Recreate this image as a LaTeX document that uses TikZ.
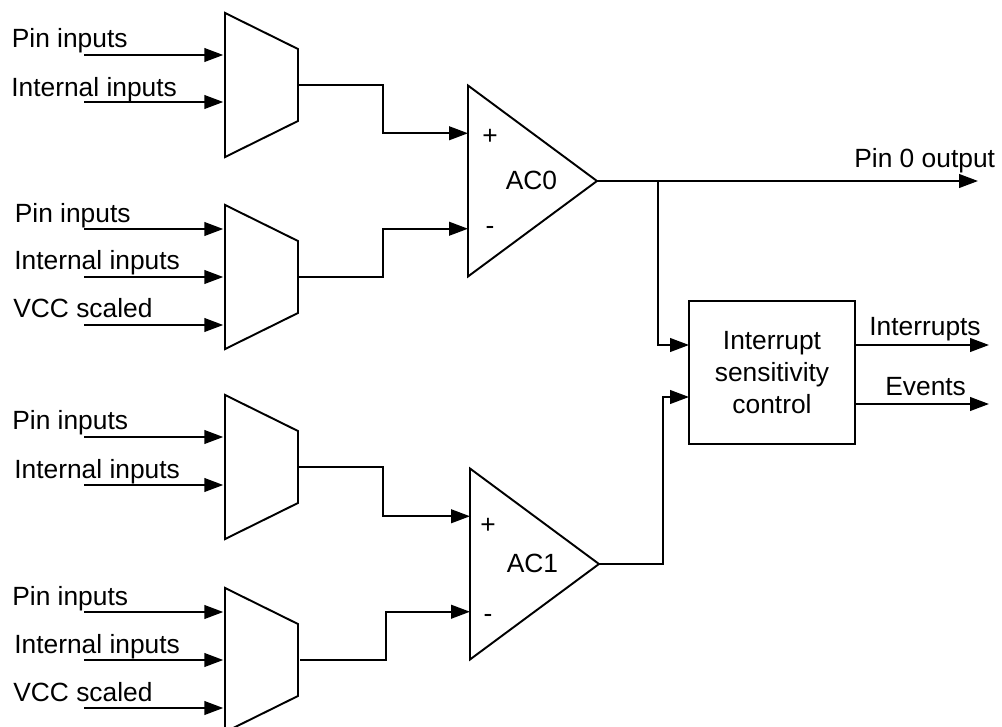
\documentclass[tikz,border=0pt]{standalone}
\usepackage{fontspec}
\setmainfont{Liberation Sans}
\usetikzlibrary{arrows.meta}
\usetikzlibrary{shapes.geometric}
\usetikzlibrary{calc}
\tikzset{
  sig/.style={line width=1.1pt, -{Triangle[length=10.8pt,width=7.8pt]}},
  lbl/.style={font=\fontsize{15}{18.2}\selectfont, anchor=base west, inner sep=0pt},
  mid/.style={font=\fontsize{15}{18.2}\selectfont, anchor=base, inner sep=0pt},
  muxblock/.style={draw, line width=1.1pt, trapezium, shape border rotate=270,
    trapezium left angle=63.7, trapezium right angle=63.7, inner sep=0pt, outer sep=0pt},
  comparator/.style={draw, line width=1.1pt, isosceles triangle, isosceles triangle stretches=true,
    minimum width=3.82cm, minimum height=2.58cm, inner sep=0pt, outer sep=0pt, anchor=lower side},
}

\begin{document}
\begin{tikzpicture}[x=0.02cm,y=-0.02cm]
  \useasboundingbox (0,0) rectangle (1002,727);

  % Multiplexers
  \foreach \name/\top in {muxa/13,muxb/205,muxc/395,muxd/588}
    \node[muxblock] (\name) at (261.5,{\top+72}) {\phantom{\rule{1.46cm}{1.44cm}}};

  % Inputs
  \foreach \n/\m/\y/\lx/\ly/\txt in {
      1/muxa/55/11.5/47/Pin inputs, 2/muxa/102/11/96/Internal inputs,
      3/muxb/229/14.5/222/Pin inputs, 4/muxb/277/14/269/Internal inputs, 5/muxb/325/13/317/VCC scaled,
      6/muxc/437/12/429/Pin inputs, 7/muxc/485/14/478/Internal inputs,
      8/muxd/612/12/605/Pin inputs, 9/muxd/660/14/653/Internal inputs, 10/muxd/708/13/701/VCC scaled}{
    \node[lbl] (lbl\n) at (\lx,\ly) {\txt};
    \coordinate (in\n) at (84,\y);
    \draw[sig, shorten >=1pt] (in\n) -- (\m.west |- in\n);
  }

  % Comparators
  \node[comparator] (acz) at (468,181) {\phantom{M}};
  \node[comparator] (aco) at (470,564) {\phantom{M}};
  \node[mid] (aczname) at (531.5,189) {AC0};
  \node[mid] (aconame) at (532.5,572) {AC1};
  \node[mid] (aczplus) at (490,144) {+};
  \node[mid] (aczminus) at (490,234.5) {-};
  \node[mid] (acoplus) at (488,533) {+};
  \node[mid] (acominus) at (488,622.5) {-};

  % Multiplexers to comparators
  \coordinate (aczp) at ($(acz.left corner)!0.25!(acz.right corner)$);
  \coordinate (aczm) at ($(acz.left corner)!0.75!(acz.right corner)$);
  \coordinate (acop) at ($(aco.left corner)!0.25!(aco.right corner)$);
  \coordinate (acom) at ($(aco.left corner)!0.75!(aco.right corner)$);
  \draw[sig] (muxa.east) -- ++(85,0) |- (aczp);
  \draw[sig] (muxb.east) -- ++(85,0) |- (aczm);
  \draw[sig] (muxc.east) -- ++(85,0) |- (acop);
  \draw[sig] (muxd.east) ++(2,0) -- ++(86,0) |- (acom);

  % Interrupt block
  \node[draw, line width=1.1pt, minimum width=3.32cm, minimum height=2.86cm, inner sep=0pt, outer sep=0pt,
    align=center, font=\fontsize{15}{18.2}\selectfont] (isc) at (772,372.5) {Interrupt\\sensitivity\\control};

  % Outputs
  \coordinate (pinend) at (978,181);
  \coordinate (tap) at (658,181);
  \coordinate (intend) at (989,345);
  \coordinate (evtend) at (989,404);
  \coordinate (iscin) at (663,397);
  \draw[sig] (acz.apex) -- (pinend);
  \draw[sig] (tap) |- (isc.west |- intend);
  \draw[sig] (aco.apex) -| (iscin) -- (isc.west |- iscin);
  \draw[sig] (isc.east |- intend) -- (intend);
  \draw[sig] (isc.east |- evtend) -- (evtend);
  \node[lbl] (pinlbl) at (854,167) {Pin 0 output};
  \node[lbl] (intlbl) at (869,335) {Interrupts};
  \node[lbl] (evtlbl) at (885,395) {Events};
\end{tikzpicture}
\end{document}
